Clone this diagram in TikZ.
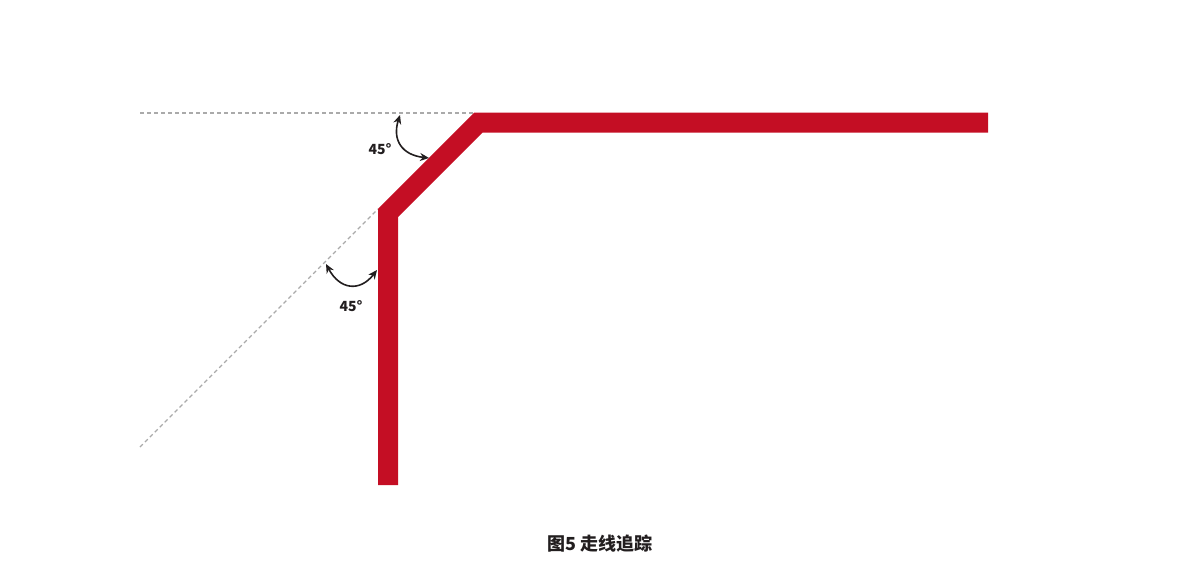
\documentclass[tikz,border=0pt]{standalone}
\usepackage{fontspec}
\newfontfamily\cjk{Noto Sans CJK SC}
\usetikzlibrary{arrows.meta}
\definecolor{tracered}{RGB}{196,14,36}
\definecolor{guidegray}{RGB}{170,170,170}
\definecolor{arrowblack}{RGB}{34,30,31}
\tikzset{
  trace/.style={draw=tracered, line width=20pt, line join=miter, line cap=butt},
  guide/.style={draw=guidegray, line width=1.2pt, dash pattern=on 4pt off 3pt},
  angarrow/.style={draw=arrowblack, line width=1.6pt, {Stealth[length=9pt,width=8pt]}-{Stealth[length=9pt,width=8pt]}},
  anglabel/.style={font=\cjk\bfseries\fontsize{14}{16}\selectfont, text=arrowblack},
}
\begin{document}
\begin{tikzpicture}[x=1pt,y=-1pt]
  \useasboundingbox (0,0) rectangle (1200,584);
  % trace corners
  \coordinate (start) at (388,485);
  \coordinate (bend1) at (388,213);
  \coordinate (bend2) at (478.5,122.5);
  \coordinate (finish) at (988,122.5);
  % guide lines
  \coordinate (hleft) at (140,113);
  \coordinate (hright) at (474,113);
  \coordinate (dlow) at (140,447);
  \coordinate (dhigh) at (378,209);
  \draw[guide] (hleft) -- (hright);
  \draw[guide] (dlow) -- (dhigh);
  \draw[trace] (start) -- (bend1) -- (bend2) -- (finish);
  % angle arrows
  \coordinate (a1) at (400,115);
  \coordinate (a2) at (429,158);
  \coordinate (b1) at (326,264);
  \coordinate (b2) at (377,270);
  \draw[angarrow] (a1) .. controls (392,140) and (402,155) .. (a2);
  \draw[angarrow] (b1) .. controls (340,290) and (360,292) .. (b2);
  \node[anglabel] (lab1) at (380,149) {45°};
  \node[anglabel] (lab2) at (351,306) {45°};
  % caption
  \node[font=\cjk\bfseries\fontsize{18}{21}\selectfont, text=arrowblack] (cap) at (600,544) {图5 走线追踪};
\end{tikzpicture}
\end{document}
